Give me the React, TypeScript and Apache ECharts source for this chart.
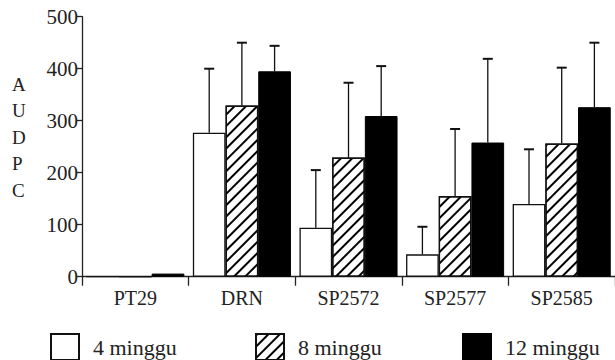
import React, { useEffect, useRef } from "react";
import * as echarts from "echarts";

const categories = ["PT29", "DRN", "SP2572", "SP2577", "SP2585"];
const seriesNames = ["4 minggu", "8 minggu", "12 minggu"];
const week4 = [0, 277, 94, 43, 140];
const week8 = [0, 329, 229, 155, 256];
const week12 = [6, 395, 309, 258, 326];
const err4 = [0, 123, 111, 53, 105];
const err8 = [0, 121, 144, 129, 146];
const err12 = [0, 49, 96, 161, 124];
const yTicks = [0, 100, 200, 300, 400, 500];

const FONT = "Liberation Serif";
const CAT_GAP = 0.08;

export default function App() {
  const ref = useRef<HTMLDivElement>(null);
  useEffect(() => {
    if (!ref.current) return;
    const chart = echarts.init(ref.current, undefined, { renderer: "svg" });
    const values = [week4, week8, week12];
    const errs = [err4, err8, err12];
    const errData: number[][] = [];
    values.forEach((vals, k) => {
      vals.forEach((v, i) => {
        errData.push([i, v, errs[k][i], k]);
      });
    });
    const hatch = {
      symbol: "rect",
      symbolSize: 1,
      color: "#000",
      backgroundColor: "#fff",
      dashArrayX: [[1, 0]],
      dashArrayY: [1.6, 6],
      rotation: -Math.PI / 4,
    };
    const styles = [
      { color: "#fff", borderColor: "#111", borderWidth: 1.3 },
      { color: "#fff", borderColor: "#111", borderWidth: 1.3, decal: hatch },
      { color: "#000", borderColor: "#000", borderWidth: 1 },
    ];
    const legendLefts = [50, 255, 462];
    chart.setOption({
      animation: false,
      textStyle: { fontFamily: FONT },
      grid: { left: 82, right: 0, top: 16.7, bottom: 83.3, containLabel: false },
      legend: seriesNames.map((n, k) => ({
        data: [{ name: n, icon: "rect" }],
        left: legendLefts[k],
        top: 333,
        padding: 0,
        itemWidth: 28,
        itemHeight: 26,
        textStyle: { fontFamily: FONT, fontSize: 22, color: "#222", padding: [0, 0, 0, 9] },
      })),
      xAxis: {
        type: "category",
        data: categories,
        axisLine: { lineStyle: { color: "#222", width: 1.3 } },
        axisTick: { show: true, length: 9, lineStyle: { color: "#222", width: 1.3 } },
        axisLabel: { fontFamily: FONT, fontSize: 20, color: "#222", margin: 11 },
      },
      yAxis: {
        type: "value",
        min: yTicks[0],
        max: yTicks[yTicks.length - 1],
        interval: 100,
        splitLine: { show: false },
        axisLine: { show: true, lineStyle: { color: "#222", width: 1.3 } },
        axisTick: { show: true, length: 6, lineStyle: { color: "#222", width: 1.3 } },
        axisLabel: { fontFamily: FONT, fontSize: 21, color: "#222", margin: 4 },
      },
      graphic: [
        {
          type: "text",
          left: 12,
          top: 71,
          style: {
            text: "A\nU\nD\nP\nC",
            font: `19px ${FONT}`,
            fill: "#222",
            lineHeight: 26.5,
            align: "center",
          },
        },
      ],
      series: [
        ...values.map((vals, k) => ({
          type: "bar",
          name: seriesNames[k],
          data: vals,
          barGap: "0%",
          barCategoryGap: CAT_GAP * 100 + "%",
          itemStyle: styles[k],
        })),
        {
          type: "custom",
          name: "err",
          data: errData,
          z: 5,
          encode: { x: 0, y: 1 },
          renderItem: (params: any, api: any) => {
            const cat = api.value(0);
            const v = api.value(1);
            const e = api.value(2);
            const k = api.value(3);
            if (!(e > 0)) return null;
            const band = api.size([1, 0])[0];
            const bw = (band * (1 - CAT_GAP)) / 3;
            const base = api.coord([cat, v]);
            const top = api.coord([cat, v + e]);
            const x = base[0] + (k - 1) * bw;
            const ls = { stroke: "#111", lineWidth: 1.3 };
            return {
              type: "group",
              children: [
                { type: "line", shape: { x1: x, y1: base[1], x2: x, y2: top[1] }, style: ls },
                { type: "line", shape: { x1: x - 5, y1: top[1], x2: x + 5, y2: top[1] }, style: { stroke: "#111", lineWidth: 2 } },
              ],
            };
          },
        },
      ],
    });
    return () => chart.dispose();
  }, []);
  return <div ref={ref} style={{ width: 615, height: 360, position: "absolute", left: 0, top: 0, background: "#fff" }} />;
}
